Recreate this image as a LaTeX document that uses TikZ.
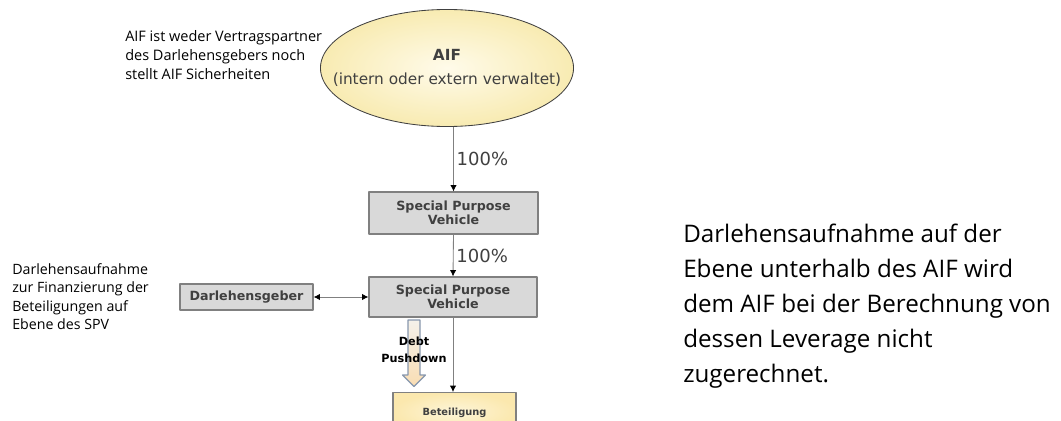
\documentclass[tikz,border=0pt]{standalone}
\usepackage{fontspec}
\setmainfont{Open Sans}
\newfontfamily\boxfont{DejaVu Sans}
\usetikzlibrary{positioning,shapes.geometric,arrows.meta}
\definecolor{boxgray}{HTML}{D9D9D9}
\definecolor{edgegray}{HTML}{808080}
\definecolor{boxtext}{HTML}{404040}
\definecolor{aifin}{HTML}{FFFBEA}
\definecolor{aifout}{HTML}{F8EBB2}
\definecolor{betin}{HTML}{FDF5D8}
\definecolor{betout}{HTML}{FBE8AE}
\definecolor{pushedge}{HTML}{8797AD}
\definecolor{pushtop}{HTML}{F4F1EA}
\definecolor{pushbot}{HTML}{F9DDB3}
\tikzset{
	spvbox/.style={draw=edgegray, fill=boxgray, line width=0.8pt, inner sep=0pt,
		font=\boxfont\bfseries\fontsize{9}{10}\selectfont, text=boxtext, align=center},
	note/.style={anchor=west, align=left, inner sep=0pt, text=black},
	link/.style={draw=edgegray, line width=0.6pt, -{Latex[length=4.5pt,width=4.5pt,black]}},
	pct/.style={right, inner sep=2pt, font=\boxfont\fontsize{12.8}{14}\selectfont, text=boxtext}
}
\begin{document}
\begin{tikzpicture}[x=0.025cm, y=-0.025cm, line join=round]
	\useasboundingbox (0,0) rectangle (1061,421);
	% Fonds oben
	\node[ellipse, draw=boxtext, line width=0.6pt, inner color=aifin, outer color=aifout,
		minimum width=6.325cm, minimum height=2.925cm, inner sep=0pt] (aif) at (447,68) {};
	\node[align=center, inner sep=0pt, font=\boxfont\fontsize{10.9}{16.5}\selectfont, text=boxtext]
		(aiftxt) at (aif.center) {\textbf{AIF}\\(intern oder extern verwaltet)};
	% Kette der Gesellschaften
	\node[spvbox, minimum width=4.225cm, minimum height=1.05cm] (spv1) at (453.5,213)
		{Special Purpose\\Vehicle};
	\node[spvbox, minimum width=4.2cm, minimum height=1.0cm] (spv2) at (453,297)
		{Special Purpose\\Vehicle};
	\node[spvbox, minimum width=3.325cm, minimum height=0.65cm] (dg) at (246.5,297)
		{Darlehensgeber};
	\node[draw=edgegray, line width=0.8pt, inner color=betin, outer color=betout,
		minimum width=3.075cm, minimum height=0.95cm, inner sep=0pt, anchor=north,
		font=\boxfont\bfseries\fontsize{7}{8}\selectfont, text=boxtext, text depth=-0.85cm,
		] (bet) at (454.5,392) {Beteiligung};
	% Verbindungen
	\draw[link] (aif.south -| spv1.north) -- node[pct] {100\%} (spv1.north);
	\draw[link] (spv1.south) -- node[pct] {100\%} (spv2.north);
	\draw[link] (spv2.south) -- (spv2.south |- bet.north);
	\draw[link, {Latex[length=4.5pt,width=4.5pt,black]}-{Latex[length=4.5pt,width=4.5pt,black]}] (dg.east) -- (spv2.west);
	% Debt Pushdown
	\draw[pushedge, line width=0.8pt, top color=pushtop, bottom color=pushbot]
		(408,320) -- (420,320) -- (420,375) -- (425.5,375) -- (414,386.5) -- (402.5,375) -- (408,375) -- cycle;
	\node[font=\boxfont\bfseries\fontsize{8}{12}\selectfont, align=center, inner sep=0pt] (pushtxt) at (414,350)
		{Debt\\Pushdown};
	% Erlaeuterungen
	\node[note, font=\fontsize{10.3}{13.5}\selectfont] (aifnote) at (125,55)
		{AIF ist weder Vertragspartner\\des Darlehensgebers noch\\stellt AIF Sicherheiten};
	\node[note, font=\fontsize{10.1}{13.2}\selectfont] (spvnote) at (12,296.5)
		{Darlehensaufnahme\\zur Finanzierung der\\Beteiligungen auf\\Ebene des SPV};
	\node[note, font=\fontsize{17.2}{25}\selectfont] (levnote) at (683,306)
		{Darlehensaufnahme auf der\\Ebene unterhalb des AIF wird\\dem AIF bei der Berechnung von\\dessen Leverage nicht\\zugerechnet.};
\end{tikzpicture}
\end{document}
